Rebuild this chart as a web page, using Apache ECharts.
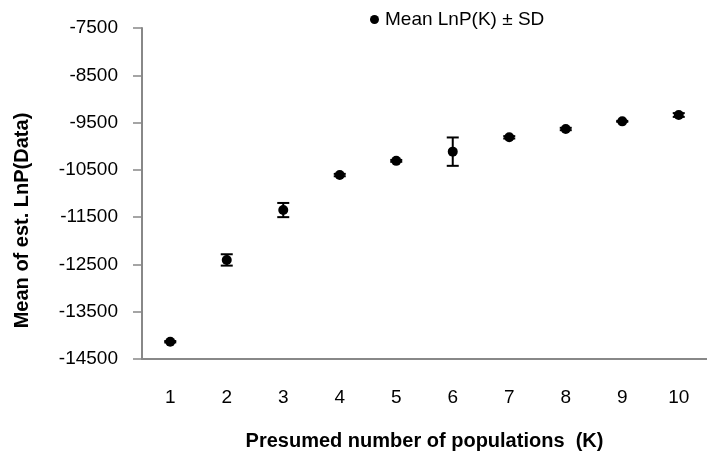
<!DOCTYPE html>
<html>
<head>
<meta charset="utf-8">
<script src="https://cdn.jsdelivr.net/npm/echarts@6/dist/echarts.min.js"></script>
<style>
  html, body { margin: 0; padding: 0; background: #fff; }
  #chart { width: 707px; height: 459px; }
</style>
</head>
<body>
<div id="chart"></div>
<script>
// Presumed number of populations K
const kValues = ['1', '2', '3', '4', '5', '6', '7', '8', '9', '10'];
// Mean estimated LnP(Data) per K
const meanLnP = [-14135, -12405, -11350, -10610, -10310, -10115, -9812, -9636, -9474, -9340];
// Standard deviation per K
const sdLnP = [15, 120, 150, 25, 20, 300, 25, 25, 10, 40];
// Y axis range
const yMin = -14500;
const yMax = -7500;
const yStep = 1000;

const font = '"Liberation Sans", "DejaVu Sans", sans-serif';

const errorData = kValues.map((k, i) => [i, meanLnP[i] - sdLnP[i], meanLnP[i] + sdLnP[i]]);

const chart = echarts.init(document.getElementById('chart'));
chart.setOption({
  animation: false,
  backgroundColor: '#ffffff',
  grid: { left: 142, top: 28, bottom: 100, right: -10, containLabel: false },
  legend: {
    data: [{ name: 'Mean LnP(K) \u00b1 SD', icon: 'circle' }],
    left: 365,
    top: 5,
    itemWidth: 9,
    itemHeight: 9,
    textStyle: { fontFamily: font, fontSize: 19, color: '#000', padding: [0, 0, 0, 1] }
  },
  xAxis: {
    type: 'category',
    data: kValues,
    boundaryGap: true,
    name: 'Presumed number of populations  (K)',
    nameLocation: 'middle',
    nameGap: 72,
    nameTextStyle: { fontFamily: font, fontSize: 20, fontWeight: 'bold', color: '#000' },
    axisLine: { lineStyle: { color: '#888', width: 2 } },
    axisTick: { show: false },
    axisLabel: { margin: 29, fontFamily: font, fontSize: 19, color: '#000' },
    splitLine: { show: false }
  },
  yAxis: {
    type: 'value',
    min: yMin,
    max: yMax,
    interval: yStep,
    name: 'Mean of est. LnP(Data)',
    nameLocation: 'middle',
    nameGap: 110,
    nameRotate: 90,
    nameTextStyle: { fontFamily: font, fontSize: 20, fontWeight: 'bold', color: '#000', padding: [0, 54, 0, 0] },
    axisLine: { show: true, lineStyle: { color: '#888', width: 2 } },
    axisTick: { show: true, inside: false, length: 9, lineStyle: { color: '#888', width: 1.5 } },
    axisLabel: { margin: 24, fontFamily: font, fontSize: 19, color: '#000', formatter: (v) => String(v) },
    splitLine: { show: false }
  },
  series: [
    {
      name: 'Mean LnP(K) \u00b1 SD',
      type: 'scatter',
      data: meanLnP,
      symbol: 'circle',
      symbolSize: 10,
      itemStyle: { color: '#000', opacity: 1 },
      z: 3
    },
    {
      name: 'SD',
      type: 'custom',
      data: errorData,
      z: 2,
      renderItem: function (params, api) {
        const x = api.value(0);
        const low = api.coord([x, api.value(1)]);
        const high = api.coord([x, api.value(2)]);
        const cap = 6;
        const style = { stroke: '#000', lineWidth: 2 };
        return {
          type: 'group',
          children: [
            { type: 'line', shape: { x1: low[0], y1: low[1], x2: high[0], y2: high[1] }, style: style },
            { type: 'line', shape: { x1: low[0] - cap, y1: low[1], x2: low[0] + cap, y2: low[1] }, style: style },
            { type: 'line', shape: { x1: high[0] - cap, y1: high[1], x2: high[0] + cap, y2: high[1] }, style: style }
          ]
        };
      }
    }
  ]
});
</script>
</body>
</html>
